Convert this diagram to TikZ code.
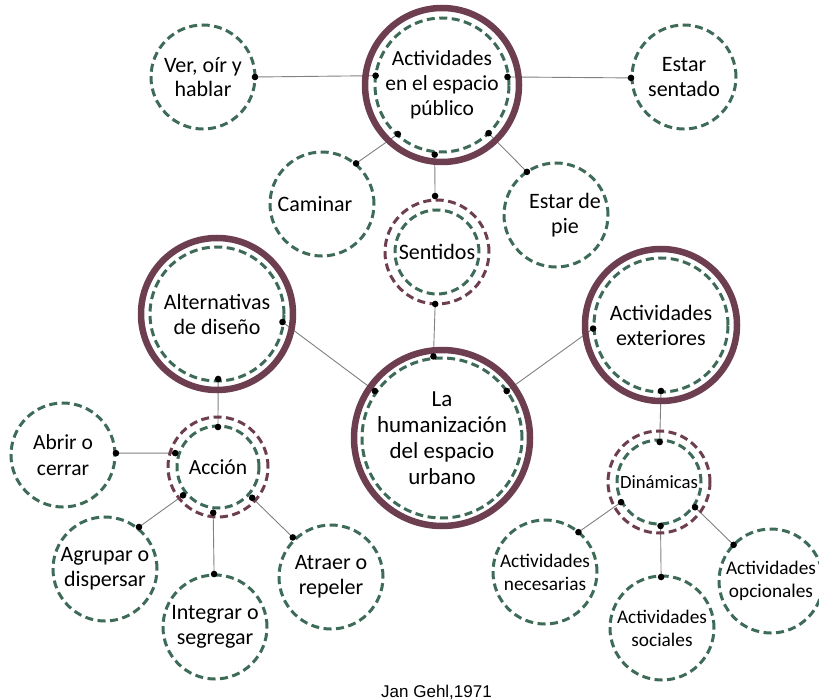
\documentclass[tikz,border=0pt]{standalone}
\usepackage{fontspec}
\setmainfont{Carlito}
\newfontfamily\creditfont{Liberation Sans}
\usetikzlibrary{backgrounds}

\definecolor{ringred}{HTML}{6D3E4F}
\definecolor{leafgreen}{HTML}{3E6B57}
\definecolor{linkgray}{HTML}{808080}

% font size / baseline skip in one go
\newcommand\fsz[2]{\fontsize{#1}{#2}\selectfont}

\tikzset{
  bubble/.style={circle, draw=leafgreen, line width=3pt,
    dash pattern=on 8pt off 4.5pt, inner sep=0pt, outer sep=0pt,
    align=center, minimum size=#1, font=\fsz{22}{25}},
  bubble/.default=104pt,
  thickring/.style={draw=ringred, line width=6.5pt},
  dashring/.style={draw=ringred, line width=3pt, dash pattern=on 8pt off 4.5pt},
  link/.style={draw=linkgray, line width=0.9pt},
  pin/.style={fill=black},
}

% connector between two bubbles, each end given as angle:radius from the centre
\newcommand\connect[4]{%
  \begin{scope}[on background layer]
    \draw[link] ([shift={(#2)}]#1.center) -- ([shift={(#4)}]#3.center);
  \end{scope}
  \fill[pin] ([shift={(#2)}]#1.center) circle (3.3pt);
  \fill[pin] ([shift={(#4)}]#3.center) circle (3.3pt);}

\begin{document}
\begin{tikzpicture}[x=1pt, y=-1pt]
  \useasboundingbox (0,0) rectangle (819,700);

  % --- main bubbles with outer rings ---
  \node[bubble=134pt, font=\fsz{21.5}{25}] (pub) at (442,85)
    {Actividades\\en el espacio\\público};
  \draw[thickring] (pub.center) circle[radius=77pt];

  \node[bubble=160pt, font=\fsz{23}{26}] (hum) at (442,438)
    {La\\humanización\\del espacio\\urbano};
  \draw[thickring] (hum.center) circle[radius=88pt];

  \node[bubble=134pt] (alt) at (217,314) {Alternativas\\de diseño};
  \draw[thickring] (alt.center) circle[radius=76pt];

  \node[bubble=134pt] (ext) at (661,325) {Actividades\\exteriores};
  \draw[thickring] (ext.center) circle[radius=76pt];

  \node[bubble=84pt] (sen) at (437,252) {Sentidos};
  \draw[dashring] (sen.center) circle[radius=52pt];

  \node[bubble=82pt, font=\fsz{21.5}{25}] (acc) at (218,467) {Acción};
  \draw[dashring] (acc.center) circle[radius=50pt];

  \node[bubble=84pt, font=\fsz{18.7}{22}] (din) at (659,482) {Dinámicas};
  \draw[dashring] (din.center) circle[radius=51pt];

  % --- leaf bubbles ---
  \node[bubble, font=\fsz{22}{24}] (ver) at (203,77) {Ver, oír y\\hablar};
  \node[bubble] (sentado) at (684,77) {Estar\\sentado};
  \node[bubble] (caminar) at (322,204) {\hspace*{-14pt}Caminar};
  \node[bubble] (pie) at (556,215) {\hspace*{18pt}Estar de\\\hspace*{18pt}pie};

  \node[bubble, font=\fsz{21.5}{26}] (abrir) at (63,455) {Abrir o\\cerrar};
  \node[bubble] (agrupar) at (105,569) {Agrupar o\\dispersar};
  \node[bubble] (integrar) at (215,627) {Integrar o\\segregar};
  \node[bubble] (atraer) at (331,577) {Atraer o\\repeler};

  \node[bubble, font=\fsz{19.3}{23}] (nec) at (545,572) {Actividades\\necesarias};
  \node[bubble, font=\fsz{19.3}{23}] (soc) at (662,628) {Actividades\\sociales};
  \node[bubble, font=\fsz{19.3}{23}] (opc) at (771,581) {Actividades\\opcionales};

  % --- connectors ---
  \connect{pub}{172:67pt}{ver}{0:52pt}
  \connect{pub}{7:66pt}{sentado}{181:53pt}
  \connect{pub}{-132:66pt}{caminar}{50:53pt}
  \connect{pub}{-96:70pt}{sen}{92:56pt}
  \connect{pub}{-46:67pt}{pie}{124:52pt}
  \connect{sen}{-92:52pt}{hum}{96:82pt}
  \connect{alt}{-7:66pt}{hum}{145:82pt}
  \connect{hum}{36:80pt}{ext}{-177:68pt}
  \connect{alt}{-89:65pt}{acc}{90:40pt}
  \connect{ext}{-90:66pt}{din}{89:40pt}
  \connect{acc}{162:45pt}{abrir}{2:53pt}
  \connect{acc}{-141:45pt}{agrupar}{51:54pt}
  \connect{acc}{-96:46pt}{integrar}{91:53pt}
  \connect{acc}{-42:46pt}{atraer}{134:55pt}
  \connect{din}{-152:43pt}{nec}{50:52pt}
  \connect{din}{-88:44pt}{soc}{91:51pt}
  \connect{din}{-35:44pt}{opc}{136:52pt}

  % --- credit ---
  \node[anchor=base, font=\creditfont\fontsize{17}{20}\selectfont, inner sep=0pt]
    (credit) at (436.5,697) {Jan Gehl,1971};
\end{tikzpicture}
\end{document}
